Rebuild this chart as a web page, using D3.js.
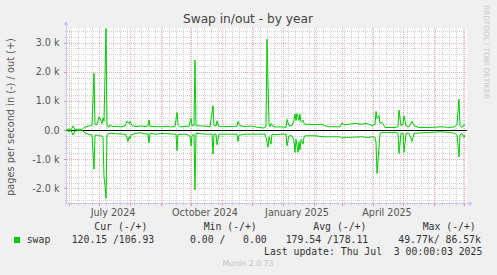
<!DOCTYPE html>
<html>
<head>
<meta charset="utf-8">
<script src="https://cdn.jsdelivr.net/npm/d3@7"></script>
<style>
  body { margin: 0; background: #f0f0f0; }
  svg { display: block; }
  text { font-family: "DejaVu Sans", sans-serif; }
  .mono { font-family: "DejaVu Sans Mono", monospace; white-space: pre; }
</style>
</head>
<body>
<div id="chart"></div>
<script>
// days are counted from this date, one value per point
const startDay = '2024-05-29';

// swap out (drawn above zero), [day, pages/s]
const outPoints = [[0,0],[1,20],[3,40],[5,10],[7,140],[9,20],[13,30],[16,20],[18,90],[21,120],[24,150],[26,170],
  [28,1950],[29,200],[31,190],[33,455],[35,330],[36,220],[37,420],[38,300],[40,3480],[41,150],[43,100],[44,180],
  [46,120],[50,130],[55,110],[59,140],[61,300],[63,220],[64,300],[66,150],[70,120],[75,140],[80,120],[82,150],
  [83,345],[84,130],[90,120],[96,113],[100,130],[106,110],[109,130],[111,605],[112,180],[114,110],[120,130],
  [123,130],[125,400],[126,150],[128,160],[129,2400],[130,150],[136,140],[144,120],[147,835],[148,150],[150,140],
  [151,320],[153,120],[163,120],[171,130],[172,300],[174,150],[179,120],[184,140],[193,90],[198,70],[200,120],
  [201,3120],[203,200],[204,110],[205,230],[207,130],[209,110],[216,110],[220,90],[221,365],[223,150],[226,150],
  [228,340],[229,550],[230,330],[231,570],[233,330],[234,550],[235,270],[237,340],[238,230],[239,200],[246,190],
  [249,190],[256,200],[259,150],[263,113],[274,113],[276,250],[278,180],[283,200],[289,230],[296,200],[299,230],
  [303,200],[306,150],[309,200],[310,640],[311,390],[313,500],[314,230],[316,270],[318,150],[319,90],[329,90],
  [332,113],[333,685],[335,150],[337,200],[338,490],[340,150],[343,113],[346,297],[348,150],[353,90],[363,90],
  [376,113],[383,90],[389,113],[391,200],[393,1060],[394,150],[396,90],[398,200],[399,150]];

// swap in (drawn below zero), [day, pages/s]
const inPoints = [[0,0],[1,20],[3,40],[5,10],[7,170],[9,30],[13,20],[16,0],[19,100],[22,140],[26,170],
  [28,1340],[29,170],[31,170],[33,200],[36,200],[37,250],[38,1600],[39,1900],[40,2340],[41,170],[42,130],
  [45,110],[50,130],[55,130],[60,150],[62,390],[63,230],[64,300],[65,160],[70,110],[75,90],[78,130],[82,130],
  [83,435],[84,110],[90,140],[96,113],[108,140],[110,140],[111,710],[112,150],[120,140],[124,200],[125,540],
  [126,200],[128,140],[129,2057],[130,110],[140,140],[146,140],[147,823],[148,140],[150,140],[151,500],[153,140],
  [165,140],[171,140],[172,390],[173,180],[179,140],[185,140],[195,140],[199,137],[200,250],[202,595],[203,230],
  [205,480],[206,137],[209,160],[216,137],[220,137],[221,540],[223,195],[226,195],[228,370],[229,765],[230,320],
  [232,765],[233,400],[234,680],[235,320],[237,480],[238,250],[239,195],[249,195],[259,230],[263,230],[274,230],
  [276,280],[278,250],[283,250],[296,230],[301,250],[303,250],[306,230],[309,250],[310,420],[311,1485],[313,600],
  [314,110],[316,80],[320,80],[330,80],[332,110],[333,800],[335,110],[337,110],[338,765],[340,110],[343,110],
  [346,390],[348,110],[363,80],[376,60],[383,80],[389,110],[391,170],[393,915],[394,170],[396,110],[398,250],
  [399,170]];

const yTicks = [-2000, -1000, 0, 1000, 2000, 3000];
const yTickLabels = ['-2.0 k', '-1.0 k', '0.0', '1.0 k', '2.0 k', '3.0 k'];
const xLabelMonths = ['2024-07-01', '2024-10-01', '2025-01-01', '2025-04-01'];
const xLabels = ['July 2024', 'October 2024', 'January 2025', 'April 2025'];

const legendHeaders = ['Cur (-/+)', 'Min (-/+)', 'Avg (-/+)', 'Max (-/+)'];
const legendValues = ['120.15 /106.93', '0.00 /   0.00', '179.54 /178.11', '49.77k/ 86.57k'];
const seriesName = 'swap';
const lastUpdate = 'Last update: Thu Jul  3 00:00:03 2025';

const W = 497, H = 275;
const pL = 67, pR = 467, pT = 28, pB = 203;

const svg = d3.select('#chart').append('svg')
  .attr('width', W).attr('height', H);

svg.append('rect').attr('width', W).attr('height', H).attr('fill', '#f0f0f0');
svg.append('rect')
  .attr('x', pL).attr('y', pT)
  .attr('width', pR - pL).attr('height', pB - pT)
  .attr('fill', '#fff');

const parse = d3.utcParse('%Y-%m-%d');
const day0 = parse(startDay);
const toDate = d => d3.utcDay.offset(day0, d);

const x = d3.scaleUtc()
  .domain([d3.utcDay.offset(day0, 1), d3.utcDay.offset(day0, 401)])
  .range([pL, pR]);
const y = d3.scaleLinear().domain([-2500, 3500]).range([pB, pT]);

const px = v => Math.round(v) + 0.5;

// minor grid
const grid = svg.append('g').attr('shape-rendering', 'crispEdges');
const weeks = d3.utcMonday.range(x.domain()[0], x.domain()[1]);
const minorY = d3.range(-2400, 3500, 200).filter(v => v % 1000 !== 0);
const minorColor = '#d2d2d2', majorColor = '#f0b0b0';

weeks.forEach(t => {
  const xx = px(x(t));
  grid.append('line').attr('x1', xx).attr('x2', xx).attr('y1', pT).attr('y2', pB)
    .attr('stroke', minorColor).attr('stroke-dasharray', '1,1');
  grid.append('line').attr('x1', xx).attr('x2', xx).attr('y1', pB).attr('y2', pB + 2)
    .attr('stroke', '#c8c8c8');
});
minorY.forEach(v => {
  const yy = px(y(v));
  grid.append('line').attr('x1', pL).attr('x2', pR).attr('y1', yy).attr('y2', yy)
    .attr('stroke', minorColor).attr('stroke-dasharray', '1,1');
  grid.append('line').attr('x1', pL - 2).attr('x2', pL).attr('y1', yy).attr('y2', yy)
    .attr('stroke', '#c8c8c8');
});

// major grid
const months = d3.utcMonth.range(x.domain()[0], x.domain()[1]);
months.forEach(t => {
  const xx = px(x(t));
  grid.append('line').attr('x1', xx).attr('x2', xx).attr('y1', pT).attr('y2', pB)
    .attr('stroke', majorColor).attr('stroke-dasharray', '1,1');
  grid.append('line').attr('x1', xx).attr('x2', xx).attr('y1', pB).attr('y2', pB + 3)
    .attr('stroke', '#ec9090');
});
yTicks.forEach(v => {
  const yy = px(y(v));
  grid.append('line').attr('x1', pL).attr('x2', pR).attr('y1', yy).attr('y2', yy)
    .attr('stroke', majorColor).attr('stroke-dasharray', '1,1');
  grid.append('line').attr('x1', pL - 3).attr('x2', pL).attr('y1', yy).attr('y2', yy)
    .attr('stroke', '#ec9090');
});

// axes with arrows
const axisColor = '#c8c8ff';
svg.append('line').attr('x1', px(pL) - 1).attr('x2', px(pL) - 1).attr('y1', pB + 2).attr('y2', pT - 4)
  .attr('stroke', axisColor);
svg.append('path').attr('d', `M${pL - 3.5},${pT - 3} L${pL + 1.5},${pT - 3} L${pL - 1},${pT - 7} Z`)
  .attr('fill', axisColor);
svg.append('line').attr('x1', pL - 2).attr('x2', pR + 3).attr('y1', px(pB)).attr('y2', px(pB))
  .attr('stroke', axisColor);
svg.append('path').attr('d', `M${pR + 2},${pB - 2} L${pR + 2},${pB + 3} L${pR + 6},${pB + 0.5} Z`)
  .attr('fill', axisColor);

// y tick labels
svg.append('g').selectAll('text').data(yTicks).join('text')
  .attr('x', 59.5).attr('y', v => y(v)).attr('dy', '0.36em')
  .attr('text-anchor', 'end').attr('font-size', 9.6).attr('fill', '#555')
  .text((v, i) => yTickLabels[i]);

// x labels, centred mid-month like rrdtool
svg.append('g').selectAll('text').data(xLabelMonths).join('text')
  .attr('x', m => x(d3.utcDay.offset(parse(m), 14)))
  .attr('y', 216).attr('text-anchor', 'middle').attr('font-size', 9.6).attr('fill', '#555')
  .text((m, i) => xLabels[i]);

// zero line
svg.append('line').attr('x1', pL).attr('x2', pR).attr('y1', px(y(0))).attr('y2', px(y(0)))
  .attr('stroke', '#000').attr('shape-rendering', 'crispEdges');

// series
const lineOut = d3.line().x(d => x(toDate(d[0]))).y(d => y(d[1]));
const lineIn = d3.line().x(d => x(toDate(d[0]))).y(d => y(-d[1]));
svg.append('path').datum(outPoints).attr('d', lineOut)
  .attr('fill', 'none').attr('stroke', '#00cc00').attr('stroke-width', 1);
svg.append('path').datum(inPoints).attr('d', lineIn)
  .attr('fill', 'none').attr('stroke', '#00cc00').attr('stroke-width', 1);

// titles
svg.append('text').attr('x', 248).attr('y', 22.5).attr('text-anchor', 'middle')
  .attr('font-size', 12.2).attr('fill', '#444').text('Swap in/out - by year');
svg.append('text').attr('transform', 'translate(14,117) rotate(-90)')
  .attr('text-anchor', 'middle').attr('font-size', 9.8).attr('fill', '#555')
  .text('pages per second in (-) / out (+)');
svg.append('text').attr('transform', 'translate(484,5) rotate(90)')
  .attr('font-size', 7.3).attr('fill', '#c8c8c8').text('RRDTOOL / TOBI OETIKER');

// legend
const headerX = [94.3, 203.7, 313.3, 422.7];
const valueX = [71.7, 190, 285.7, 398.3];
svg.append('g').selectAll('text').data(legendHeaders).join('text')
  .attr('class', 'mono').attr('x', (d, i) => headerX[i]).attr('y', 229.5)
  .attr('font-size', 9.8).attr('fill', '#333').text(d => d);
svg.append('rect').attr('x', 14).attr('y', 237).attr('width', 6).attr('height', 6).attr('fill', '#00cc00');
svg.append('text').attr('class', 'mono').attr('x', 26.7).attr('y', 242.5)
  .attr('font-size', 9.8).attr('fill', '#333').text(seriesName);
svg.append('g').selectAll('text').data(legendValues).join('text')
  .attr('class', 'mono').attr('x', (d, i) => valueX[i]).attr('y', 242.5)
  .attr('font-size', 9.8).attr('fill', '#333').text(d => d);
svg.append('text').attr('class', 'mono').attr('x', 482.3).attr('y', 254.5).attr('text-anchor', 'end')
  .attr('font-size', 9.8).attr('fill', '#333').text(lastUpdate);
svg.append('text').attr('x', 248).attr('y', 266).attr('text-anchor', 'middle')
  .attr('font-size', 7.8).attr('fill', '#c0c0c0').text('Munin 2.0.73');
</script>
</body>
</html>
